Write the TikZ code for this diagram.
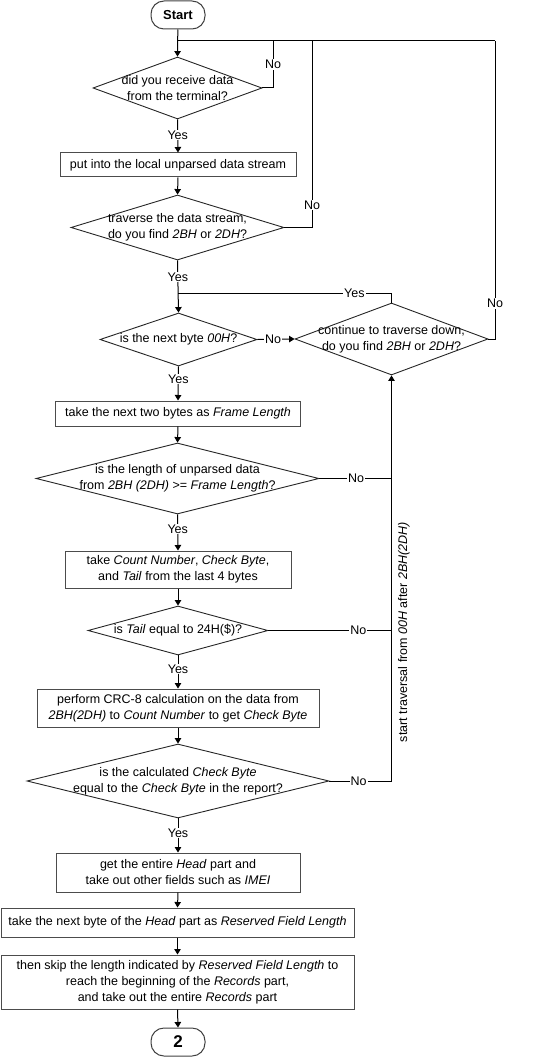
\documentclass[tikz,border=0pt]{standalone}
\usepackage{fontspec}
\setmainfont{Liberation Sans}
\usetikzlibrary{arrows.meta,shapes.geometric}
\begin{document}
\begin{tikzpicture}[x=1pt,y=-1pt,
  font=\fontsize{12.5}{16}\selectfont,
  box/.style={draw=black!70,line width=1pt,rectangle,inner sep=0pt,align=center},
  term/.style={draw=black!75,line width=1pt,rounded corners=13pt,minimum width=54pt,minimum height=28pt,inner sep=0pt,font=\fontsize{13}{15}\selectfont\bfseries},
  dia/.style={draw=black!85,line width=0.9pt,diamond,inner sep=0pt},
  dtext/.style={align=center,inner sep=0pt},
  lbl/.style={fill=white,inner sep=1pt},
  arr/.style={-{Triangle[width=6.5pt,length=5.5pt]},line width=1pt},
  ln/.style={line width=1pt}]
\useasboundingbox (0,0) rectangle (545,1059);

% nodes
\node[term] (start) at (178,15) {Start};
\node[dia,minimum width=169pt,minimum height=62pt] (d1) at (177.5,88) {};
\node[dtext] (d1t) at (d1) {did you receive data\\from the terminal?};
\node[box,minimum width=236pt,minimum height=24pt] (b1) at (178,165) {put into the local unparsed data stream};
\node[dia,minimum width=213pt,minimum height=65pt] (d2) at (177.5,227.5) {};
\node[dtext] (d2t) at (d2) {traverse the data stream,\\do you find \textit{2BH} or \textit{2DH}?};
\node[dia,minimum width=157pt,minimum height=53pt] (d3) at (178.5,339.5) {};
\node[dtext] (d3t) at (d3) {is the next byte \textit{00H}?};
\node[dia,minimum width=193pt,minimum height=72pt] (d4) at (391.5,339) {};
\node[dtext] (d4t) at (d4) {continue to traverse down,\\do you find \textit{2BH} or \textit{2DH}?};
\node[box,minimum width=245pt,minimum height=25pt] (b2) at (178,413.5) {take the next two bytes as \textit{Frame Length}};
\node[dia,minimum width=283pt,minimum height=71pt] (d5) at (177.5,478.5) {};
\node[dtext] (d5t) at (d5) {is the length of unparsed data\\from \textit{2BH (2DH)} >= \textit{Frame Length}?};
\node[box,minimum width=226pt,minimum height=37pt] (b3) at (178,569.5) {take \textit{Count Number}, \textit{Check Byte},\\and \textit{Tail} from the last 4 bytes};
\node[dia,minimum width=180pt,minimum height=49pt] (d6) at (178,630.5) {};
\node[dtext] (d6t) at (d6) {is \textit{Tail} equal to 24H(\$)?};
\node[box,minimum width=282pt,minimum height=38pt] (b4) at (178,708) {perform CRC-8 calculation on the data from\\\textit{2BH(2DH)} to \textit{Count Number} to get \textit{Check Byte}};
\node[dia,minimum width=302pt,minimum height=74pt] (d7) at (178,781) {};
\node[dtext] (d7t) at (d7) {is the calculated \textit{Check Byte}\\equal to the \textit{Check Byte} in the report?};
\node[box,minimum width=244pt,minimum height=39pt] (b5) at (178,872.5) {get the entire \textit{Head} part and\\take out other fields such as \textit{IMEI}};
\node[box,minimum width=353pt,minimum height=29pt] (b6) at (177.5,922.5) {take the next byte of the \textit{Head} part as \textit{Reserved Field Length}};
\node[box,minimum width=353pt,minimum height=54pt] (b7) at (177.5,982) {then skip the length indicated by \textit{Reserved Field Length} to\\reach the beginning of the \textit{Records} part,\\and take out the entire \textit{Records} part};
\node[term,font=\fontsize{17}{19}\selectfont\bfseries] (end) at (178,1042) {2};

\node[rotate=90,inner sep=0pt] (vt) at (404,632) {start traversal from \textit{00H} after \textit{2BH(2DH)}};

% coordinates
\coordinate (j0) at (178,41);
\coordinate (t1) at (273,41);
\coordinate (t2) at (312,41);
\coordinate (t3) at (495,41);
\coordinate (j1) at (178,293);
\coordinate (v5) at (391.5,478.5);
\coordinate (v6) at (391.5,630.5);

% connectors
\draw[arr] (start) -- (d1.north);
\draw[ln] (j0) -- (t3);
\draw[ln] (d1.east) -| (t1) node[lbl,pos=0.75] {No};
\draw[ln] (d2.east) -| (t2) node[lbl,pos=0.56] {No};
\draw[ln] (d4.east) -| (t3) node[lbl,pos=0.56] {No};
\draw[arr] (d1.south) -- (b1.north) node[lbl,pos=0.47] {Yes};
\draw[arr] (b1.south) -- (d2.north);
\draw[arr] (d2.south) -- (d3.north) node[lbl,pos=0.32] {Yes};
\draw[ln] (d4.north) |- (j1) node[lbl,pos=0.587] {Yes};
\draw[arr] (d3.east) -- (d4.west) node[lbl,pos=0.42] {No};
\draw[arr] (d3.south) -- (b2.north) node[lbl,pos=0.37] {Yes};
\draw[arr] (b2.south) -- (d5.north);
\draw[ln] (d5.east) -- (v5) node[lbl,pos=0.51] {No};
\draw[arr] (d5.south) -- (b3.north) node[lbl,pos=0.4] {Yes};
\draw[arr] (b3.south) -- (d6.north);
\draw[ln] (d6.east) -- (v6) node[lbl,pos=0.73] {No};
\draw[arr] (d6.south) -- (b4.north) node[lbl,pos=0.41] {Yes};
\draw[arr] (b4.south) -- (d7.north);
\draw[arr] (d7.east) -| (d4.south) node[lbl,pos=0.235] {No};
\draw[arr] (d7.south) -- (b5.north) node[lbl,pos=0.43] {Yes};
\draw[arr] (b5.south) -- (b6.north);
\draw[arr] (b6.south) -- (b7.north);
\draw[arr] (b7.south) -- (end.north);
\end{tikzpicture}
\end{document}
